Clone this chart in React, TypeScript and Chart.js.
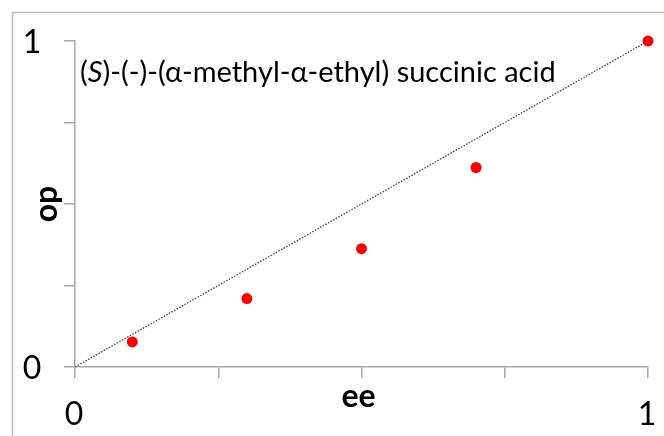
import { useEffect, useRef } from 'react';
import { Chart, registerables } from 'chart.js';

Chart.register(...registerables);

// ---- data ----
const eeValues = [0.1, 0.3, 0.5, 0.7, 1.0];
const opValues = [0.077, 0.21, 0.363, 0.612, 1.0];
const diagonalX = [0, 1];
const diagonalY = [0, 1];
const xTickLabels = [
  { value: 0, text: '0' },
  { value: 1, text: '1' },
];
const yTickLabels = [
  { value: 0, text: '0' },
  { value: 1, text: '1' },
];
const xTitle = 'ee';
const yTitle = 'op';
const titleParts = [
  { text: '(', italic: false },
  { text: 'S', italic: true },
  { text: ')-(-)-(α-methyl-α-ethyl) succinic acid', italic: false },
];

const FONT = 'Lato, "Open Sans", "DejaVu Sans", sans-serif';

const overlayPlugin = {
  id: 'overlay',
  beforeDraw(chart: any) {
    const ctx = chart.ctx as CanvasRenderingContext2D;
    ctx.save();
    ctx.fillStyle = '#ffffff';
    ctx.fillRect(0, 0, chart.width, chart.height);
    ctx.strokeStyle = '#bdbdbd';
    ctx.lineWidth = 1.5;
    ctx.strokeRect(12.5, 12.5, chart.width + 20, chart.height + 20);
    ctx.restore();
  },
  afterDraw(chart: any) {
    const ctx = chart.ctx as CanvasRenderingContext2D;
    const xs = chart.scales.x;
    const ys = chart.scales.y;
    ctx.save();
    ctx.fillStyle = '#000000';
    ctx.font = `32px ${FONT}`;
    ctx.textBaseline = 'alphabetic';
    ctx.textAlign = 'center';
    for (const t of yTickLabels) {
      ctx.fillText(t.text, 32, ys.getPixelForValue(t.value) + 12);
    }
    for (const t of xTickLabels) {
      ctx.fillText(t.text, xs.getPixelForValue(t.value) - 1, 425);
    }
    ctx.font = `bold 32px ${FONT}`;
    ctx.fillText(xTitle, (xs.left + xs.right) / 2 - 3, 407);
    ctx.save();
    ctx.translate(57, ys.getPixelForValue(0.5));
    ctx.rotate(-Math.PI / 2);
    ctx.fillText(yTitle, 0, 0);
    ctx.restore();

    // title
    ctx.textAlign = 'left';
    let x = 80;
    const baseY = 82;
    for (const p of titleParts) {
      ctx.font = `${p.italic ? 'italic ' : ''}29px ${FONT}`;
      ctx.fillText(p.text, x, baseY);
      x += ctx.measureText(p.text).width;
    }
    ctx.restore();
  },
};

export default function App() {
  const ref = useRef<HTMLCanvasElement | null>(null);
  useEffect(() => {
    if (!ref.current) return;
    const chart = new Chart(ref.current, {
      type: 'scatter',
      data: {
        datasets: [
          {
            type: 'line',
            label: 'op = ee',
            data: diagonalX.map((v, i) => ({ x: v, y: diagonalY[i] })),
            borderColor: '#444444',
            borderWidth: 1.3,
            borderDash: [1.5, 1.5],
            pointRadius: 0,
            fill: false,
            clip: false as any,
          },
          {
            label: 'data',
            data: eeValues.map((v, i) => ({ x: v, y: opValues[i] })),
            backgroundColor: '#ff0000',
            borderColor: '#ff0000',
            borderWidth: 0,
            pointRadius: 5.5,
            clip: false as any,
          },
        ],
      },
      options: {
        animation: false,
        responsive: false,
        events: [],
        layout: { padding: { left: 0, top: 41, right: 16, bottom: 0 } },
        plugins: {
          legend: { display: false },
          tooltip: { enabled: false },
          title: { display: false },
        },
        scales: {
          x: {
            type: 'linear',
            min: 0,
            max: 1,
            ticks: { display: false, stepSize: 0.25 },
            grid: {
              drawOnChartArea: false,
              drawTicks: true,
              tickLength: 11,
              color: '#a6a6a6',
              lineWidth: 1.5,
            },
            border: { display: true, color: '#a6a6a6', width: 1.5 },
            afterFit: (s: any) => {
              s.height = 69;
            },
          },
          y: {
            type: 'linear',
            min: 0,
            max: 1,
            ticks: { display: false, stepSize: 0.25 },
            grid: {
              drawOnChartArea: false,
              drawTicks: true,
              tickLength: 11,
              color: '#a6a6a6',
              lineWidth: 1.5,
            },
            border: { display: true, color: '#a6a6a6', width: 1.5 },
            afterFit: (s: any) => {
              s.width = 75;
            },
          },
        },
      },
      plugins: [overlayPlugin],
    });
    return () => chart.destroy();
  }, []);
  return (
    <div style={{ position: 'absolute', left: 0, top: 0, width: 664, height: 436 }}>
      <canvas ref={ref} width={664} height={436} style={{ display: 'block' }} />
    </div>
  );
}
